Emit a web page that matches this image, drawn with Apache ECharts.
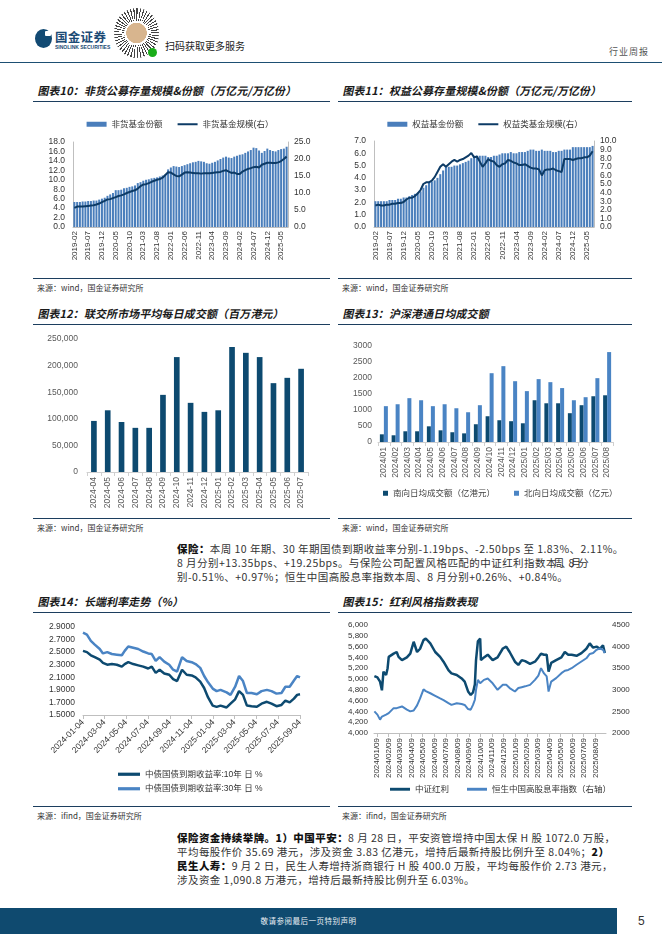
<!DOCTYPE html>
<html><head><meta charset="utf-8">
<script src="https://cdn.jsdelivr.net/npm/echarts/dist/echarts.min.js"></script>
<style>
body{margin:0;width:662px;height:936px;background:#fff;position:relative;overflow:hidden;font-family:"Noto Sans CJK SC",sans-serif;}
.abs{position:absolute;}
.title{position:absolute;font-size:11px;line-height:14px;font-weight:bold;color:#1a1a1a;letter-spacing:0.1px;white-space:nowrap;transform:skewX(-12deg);transform-origin:left bottom;}
.rule{position:absolute;height:0;border-top:1.3px solid #1c3e5e;}
.src{position:absolute;font-size:8px;line-height:12px;color:#333;white-space:nowrap;}
.chart{position:absolute;}
.p{position:absolute;left:177px;font-size:10.5px;color:#333;white-space:nowrap;line-height:14px;letter-spacing:0.45px;}
.p b{color:#111;font-weight:900;}
</style></head>
<body>
<!-- header -->
<div class="abs" style="left:35px;top:29px;width:17px;height:19px;border-radius:50%;background:#124a73;"></div>
<div class="abs" style="left:45px;top:31px;width:6px;height:5px;background:#fff;border-radius:1px;"></div>
<div class="abs" style="left:55px;top:29px;font-size:12.5px;line-height:15px;font-weight:bold;color:#1b4a75;letter-spacing:0.3px;">国金证券</div>
<div class="abs" style="left:55px;top:44px;font-size:5px;line-height:6px;font-weight:bold;color:#1b4a75;font-family:'Liberation Sans',sans-serif;">SINOLINK SECURITIES</div>
<div class="abs" style="left:114px;top:8px;width:45px;height:50px;border-radius:50%;background:radial-gradient(circle,#d8b58e 0 30%,#fff 31% 36%,transparent 37%),repeating-conic-gradient(#444 0 3deg,#fff 3deg 8deg);"></div>
<div class="abs" style="left:148px;top:48px;width:9px;height:9px;border-radius:50%;background:#1aad19;"></div>
<div class="abs" style="left:165px;top:39px;font-size:10px;line-height:14px;color:#222;">扫码获取更多服务</div>
<div class="abs" style="left:609px;top:45px;font-size:9px;line-height:13px;color:#555;letter-spacing:1px;">行业周报</div>
<div class="abs" style="left:0;top:62px;width:662px;border-top:1.6px solid #1d4f73;"></div>

<!-- titles and rules -->
<div class="title" style="left:37px;top:83px;">图表10：非货公募存量规模&amp;份额（万亿元/万亿份）</div>
<div class="title" style="left:342px;top:83px;">图表11：权益公募存量规模&amp;份额（万亿元/万亿份）</div>
<div class="rule" style="left:33px;top:101px;width:297px;"></div>
<div class="rule" style="left:338px;top:101px;width:294px;"></div>
<div class="rule" style="left:33px;top:278px;width:297px;"></div>
<div class="rule" style="left:338px;top:278px;width:294px;"></div>
<div class="src" style="left:37px;top:282px;">来源：wind，国金证券研究所</div>
<div class="src" style="left:342px;top:282px;">来源：wind，国金证券研究所</div>

<div class="title" style="left:37px;top:306px;">图表12：联交所市场平均每日成交额（百万港元）</div>
<div class="title" style="left:342px;top:306px;">图表13：沪深港通日均成交额</div>
<div class="rule" style="left:33px;top:324px;width:297px;"></div>
<div class="rule" style="left:338px;top:324px;width:294px;"></div>
<div class="rule" style="left:33px;top:518px;width:297px;"></div>
<div class="rule" style="left:338px;top:518px;width:294px;"></div>
<div class="src" style="left:37px;top:522px;">来源：wind，国金证券研究所</div>
<div class="src" style="left:342px;top:522px;">来源：wind，国金证券研究所</div>

<div class="p" style="top:542px;"><b>保险：</b>本周 10 年期、30 年期国债到期收益率分别-1.19bps、-2.50bps 至 1.83%、2.11%。</div>
<div class="p" style="top:556px;">8 月分别+13.35bps、+19.25bps。与保险公司配置风格匹配的中证红利指数<span style="letter-spacing:-3px;">本周、8 月分</span></div>
<div class="p" style="top:570px;">别-0.51%、+0.97%；恒生中国高股息率指数本周、8 月分别+0.26%、+0.84%。</div>

<div class="title" style="left:37px;top:594px;">图表14：长端利率走势（%）</div>
<div class="title" style="left:342px;top:594px;">图表15：红利风格指数表现</div>
<div class="rule" style="left:33px;top:612px;width:297px;"></div>
<div class="rule" style="left:338px;top:612px;width:294px;"></div>
<div class="rule" style="left:33px;top:806px;width:297px;"></div>
<div class="rule" style="left:338px;top:806px;width:294px;"></div>
<div class="src" style="left:37px;top:810px;">来源：ifind，国金证券研究所</div>
<div class="src" style="left:342px;top:810px;">来源：ifind，国金证券研究所</div>

<div class="p" style="top:831px;"><b>保险资金持续举牌。1）中国平安：</b>8 月 28 日，平安资管增持中国太保 H 股 1072.0 万股，</div>
<div class="p" style="top:845px;">平均每股作价 35.69 港元，涉及资金 3.83 亿港元，增持后最新持股比例升至 8.04%；<b>2）</b></div>
<div class="p" style="top:859px;"><b>民生人寿：</b>9 月 2 日，民生人寿增持浙商银行 H 股 400.0 万股，平均每股作价 2.73 港元，</div>
<div class="p" style="top:873px;">涉及资金 1,090.8 万港元，增持后最新持股比例升至 6.03%。</div>

<!-- footer -->
<div class="abs" style="left:0;top:908px;width:617px;height:26px;background:#0f4a6f;"></div>
<div class="abs" style="left:0;top:915px;width:617px;text-align:center;font-size:7.5px;line-height:12px;color:#e8eef3;letter-spacing:0.5px;">敬请参阅最后一页特别声明</div>
<div class="abs" style="left:638px;top:913px;font-size:12px;line-height:16px;color:#333;font-family:'Liberation Sans',sans-serif;">5</div>

<div id="c10" class="chart" style="left:30px;top:105px;width:300px;height:170px;"></div>
<div id="c11" class="chart" style="left:335px;top:105px;width:300px;height:170px;"></div>
<div id="c12" class="chart" style="left:30px;top:330px;width:300px;height:185px;"></div>
<div id="c13" class="chart" style="left:335px;top:330px;width:300px;height:185px;"></div>
<div id="c14" class="chart" style="left:30px;top:615px;width:300px;height:190px;"></div>
<div id="c15" class="chart" style="left:335px;top:615px;width:300px;height:190px;"></div>

<script>
// ---------- data ----------
const months = ['2019-02','2019-03','2019-04','2019-05','2019-06','2019-07','2019-08','2019-09','2019-10','2019-11','2019-12',
'2020-01','2020-02','2020-03','2020-04','2020-05','2020-06','2020-07','2020-08','2020-09','2020-10','2020-11','2020-12',
'2021-01','2021-02','2021-03','2021-04','2021-05','2021-06','2021-07','2021-08','2021-09','2021-10','2021-11','2021-12',
'2022-01','2022-02','2022-03','2022-04','2022-05','2022-06','2022-07','2022-08','2022-09','2022-10','2022-11','2022-12',
'2023-01','2023-02','2023-03','2023-04','2023-05','2023-06','2023-07','2023-08','2023-09','2023-10','2023-11','2023-12',
'2024-01','2024-02','2024-03','2024-04','2024-05','2024-06','2024-07','2024-08','2024-09','2024-10','2024-11','2024-12',
'2025-01','2025-02','2025-03','2025-04','2025-05','2025-06','2025-07'];

const nonMoneyShare = [5.3,5.3,5.3,5.4,5.4,5.5,5.5,5.6,5.6,5.8,6.0,
6.2,6.6,6.9,7.2,7.8,7.8,7.9,8.2,8.3,8.5,8.6,8.8,
9.3,9.5,9.8,10.0,10.1,10.3,10.4,10.5,10.7,10.9,11.1,12.2,
12.6,12.9,12.8,12.7,12.9,13.1,13.3,13.5,13.7,13.8,14.0,13.9,
13.8,13.5,13.4,13.6,13.8,14.1,14.4,14.7,14.9,14.7,14.6,14.9,
15.1,15.3,15.4,15.7,16.0,16.3,16.8,16.7,16.2,15.7,16.1,16.6,
16.3,16.1,16.0,16.3,16.5,16.6,17.0];
const nonMoneyScale = [5.6,6.0,6.0,6.0,6.1,6.2,6.3,6.4,6.6,6.9,7.3,
7.7,8.1,8.2,8.5,8.8,9.1,9.3,9.6,10.0,10.3,10.6,10.8,
11.3,12.0,12.5,12.6,12.9,13.3,13.6,13.9,14.1,14.5,15.3,16.1,
16.0,15.5,15.0,14.9,15.4,16.0,16.1,16.0,15.9,15.8,15.8,15.7,
15.8,15.8,15.8,15.9,16.0,16.1,16.2,16.5,16.7,16.3,15.9,16.0,
15.6,15.6,16.3,16.7,17.1,17.3,17.6,17.7,17.5,18.3,18.6,18.9,
18.9,18.8,18.8,19.0,19.4,20.0,20.7];

const equityShare = [2.1,2.1,2.1,2.1,2.1,2.2,2.2,2.2,2.3,2.3,2.4,
2.4,2.5,2.6,2.7,2.8,2.9,3.2,3.4,3.6,3.7,3.8,4.0,
4.3,4.6,4.9,4.9,4.9,5.0,5.0,5.1,5.2,5.3,5.4,5.6,
5.8,5.8,5.8,5.8,5.8,5.7,5.7,5.8,5.8,5.9,6.0,6.0,
6.0,6.1,6.0,6.0,6.1,6.1,6.1,6.2,6.3,6.3,6.2,6.2,
6.3,6.2,6.2,6.2,6.1,6.1,6.2,6.2,6.3,6.3,6.3,6.5,
6.5,6.5,6.5,6.5,6.5,6.5,6.6];
const equityScale = [2.5,2.6,2.5,2.5,2.6,2.6,2.7,2.7,2.8,2.8,2.9,
3.2,3.4,3.4,3.6,3.9,4.3,5.0,5.2,5.2,5.4,5.8,6.4,
7.0,7.3,7.0,7.3,7.6,7.8,7.6,7.8,7.9,8.1,8.3,8.6,
8.1,8.2,7.6,7.0,7.4,7.9,7.7,7.6,7.2,7.0,7.3,7.4,
7.8,7.7,7.5,7.4,7.2,7.2,7.3,7.1,6.9,6.8,6.8,6.7,
6.0,6.6,6.7,6.7,6.8,6.6,6.5,6.4,7.9,7.9,7.9,7.8,
7.9,8.0,8.0,8.1,8.1,8.3,8.8];

const hkexMonths = ['2024-04','2024-05','2024-06','2024-07','2024-08','2024-09','2024-10','2024-11','2024-12','2025-01','2025-02','2025-03','2025-04','2025-05','2025-06','2025-07'];
const hkexTurnover = [96000,116000,94000,83000,83000,145000,216000,130000,113000,116000,235000,224000,216000,167000,177000,194000];

const connectMonths = ['2024/01','2024/02','2024/03','2024/04','2024/05','2024/06','2024/07','2024/08','2024/09','2024/10','2024/11','2024/12','2025/01','2025/02','2025/03','2025/04','2025/05','2025/06','2025/07','2025/08'];
const southbound = [240,210,335,335,490,365,305,270,555,805,680,650,585,1305,1210,1210,900,1150,1430,1460];
const northbound = [1120,1180,1370,1305,1120,1180,1055,930,1150,2150,2370,1900,1590,1965,1870,1685,1305,1400,1995,2810];

const bondDates = ['2024-01-04','2024-01-15','2024-01-26','2024-02-06','2024-02-20','2024-02-29','2024-03-12','2024-03-25','2024-04-08','2024-04-22','2024-04-30','2024-05-10','2024-05-24','2024-06-07','2024-06-21','2024-07-05','2024-07-15','2024-07-26','2024-08-06','2024-08-19','2024-09-02','2024-09-13','2024-09-24','2024-10-08','2024-10-21','2024-11-04','2024-11-15','2024-11-28','2024-12-09','2024-12-20','2025-01-02','2025-01-13','2025-01-24','2025-02-10','2025-02-21','2025-03-06','2025-03-17','2025-03-28','2025-04-08','2025-04-21','2025-05-06','2025-05-19','2025-06-03','2025-06-16','2025-06-30','2025-07-14','2025-07-25','2025-08-06','2025-08-18','2025-08-27','2025-09-04'];
const yield10 = [2.52,2.50,2.45,2.42,2.38,2.33,2.30,2.31,2.30,2.27,2.31,2.34,2.31,2.29,2.27,2.24,2.27,2.17,2.22,2.16,2.14,2.07,2.04,2.22,2.14,2.13,2.10,2.03,1.93,1.78,1.65,1.63,1.65,1.62,1.68,1.75,1.88,1.82,1.65,1.64,1.63,1.68,1.71,1.68,1.64,1.66,1.73,1.70,1.76,1.82,1.83];
const yield30 = [2.81,2.78,2.68,2.62,2.55,2.48,2.50,2.47,2.46,2.45,2.52,2.59,2.57,2.55,2.51,2.48,2.47,2.36,2.42,2.35,2.30,2.22,2.19,2.42,2.36,2.34,2.31,2.25,2.12,2.02,1.92,1.88,1.90,1.86,1.82,1.95,2.12,2.04,1.85,1.85,1.83,1.88,1.90,1.88,1.84,1.85,1.95,1.95,2.05,2.12,2.10];
const bondTicks = ['2024-01-04','2024-03-04','2024-05-04','2024-07-04','2024-09-04','2024-11-04','2025-01-04','2025-03-04','2025-05-04','2025-07-04','2025-09-04'];

const divDates = ['2024-01-02','2024-01-10','2024-01-17','2024-01-22','2024-01-26','2024-02-02','2024-02-06','2024-02-09','2024-02-22','2024-03-01','2024-03-06','2024-03-15','2024-03-28','2024-04-06','2024-04-15','2024-04-24','2024-05-02','2024-05-11','2024-05-17','2024-05-29','2024-06-11','2024-06-24','2024-07-03','2024-07-16','2024-07-24','2024-08-07','2024-08-20','2024-08-28','2024-09-06','2024-09-13','2024-09-19','2024-09-24','2024-09-27','2024-10-02','2024-10-08','2024-10-10','2024-10-18','2024-10-28','2024-11-10','2024-11-23','2024-12-07','2024-12-16','2024-12-25','2025-01-08','2025-01-17','2025-01-26','2025-02-04','2025-02-17','2025-03-02','2025-03-11','2025-03-18','2025-03-26','2025-04-02','2025-04-07','2025-04-14','2025-04-27','2025-05-11','2025-05-20','2025-05-29','2025-06-07','2025-06-20','2025-07-03','2025-07-16','2025-07-25','2025-08-03','2025-08-12','2025-08-21','2025-08-29','2025-09-03'];
const csiDividend = [5055,5030,4950,4790,5135,5075,5200,5410,5470,5500,5410,5350,5400,5470,5690,5500,5560,5720,5750,5660,5500,5410,5320,5165,5105,5075,5010,4950,4770,4705,4750,4900,5350,5700,5750,5350,5400,5450,5350,5400,5565,5600,5500,5320,5260,5350,5330,5280,5320,5400,5470,5450,5450,5135,5300,5350,5400,5500,5450,5450,5430,5480,5560,5660,5580,5600,5560,5625,5480];
const hsHighDiv = [2500,2425,2310,2380,2410,2425,2440,2460,2575,2575,2590,2615,2540,2500,2520,2640,2800,3010,2970,2920,2860,2800,2760,2690,2650,2690,2670,2650,2555,2540,2650,2770,3000,3230,3150,3180,3230,3260,3150,3000,3115,3115,3040,2960,3040,3060,3080,3115,3230,3330,3500,3380,3310,2960,3190,3270,3385,3440,3460,3500,3580,3655,3730,3830,3850,3925,3960,3925,3850];
const divTicks = ['2024/01/09','2024/02/09','2024/03/09','2024/04/09','2024/05/09','2024/06/09','2024/07/09','2024/08/09','2024/09/09','2024/10/09','2024/11/09','2024/12/09','2025/01/09','2025/02/09','2025/03/09','2025/04/09','2025/05/09','2025/06/09','2025/07/09','2025/08/09'];

// ---------- helpers ----------
const FONT = '"Liberation Sans", Arial, "Noto Sans CJK SC", sans-serif';
const DARK = '#0d4a70', LIGHT = '#4a84c4', BAR = '#4a7ebb', LINE = '#0d3b66';
function ts(s){const p=s.split(/[-\/]/);return Date.UTC(+p[0],+p[1]-1,+p[2]);}
function fmt(t,sep){const d=new Date(t);return d.getUTCFullYear()+sep+String(d.getUTCMonth()+1).padStart(2,'0')+sep+String(d.getUTCDate()).padStart(2,'0');}
function pairs(dates,vals){return dates.map((d,i)=>[ts(d),vals[i]]);}
function mk(id,opt){const c=echarts.init(document.getElementById(id),null,{renderer:'canvas'});opt.animation=false;opt.textStyle={fontFamily:FONT};c.setOption(opt);}
const lab = (extra)=>Object.assign({fontSize:8,color:'#333',fontFamily:FONT},extra||{});
const gray = {lineStyle:{color:'#bfbfbf'}};
const thinLine = 'path://M0,0 H20 V2 H0 Z';
const thickLine = 'path://M0,0 H22 V3.2 H0 Z';

// ---------- chart 10 / 11 ----------
function fundChart(id,barName,lineName,barData,lineData,lmax,lint,rmax,rint,grid){
  mk(id,{
    legend:{top:10,left:'center',itemGap:15,itemWidth:20,itemHeight:5,textStyle:{fontSize:8.5,color:'#333',fontFamily:FONT},
      data:[{name:barName,icon:'rect'},{name:lineName,icon:thinLine}]},
    grid:grid,
    xAxis:{type:'category',data:months,axisLine:gray,axisTick:{show:false},axisLabel:lab({rotate:90,interval:4,margin:4})},
    yAxis:[{type:'value',min:0,max:lmax,interval:lint,splitLine:{show:false},axisLine:{show:true,lineStyle:{color:'#bfbfbf'}},axisTick:{show:false},axisLabel:lab({formatter:v=>v.toFixed(1),fontSize:8.5,margin:8})},
           {type:'value',min:0,max:rmax,interval:rint,splitLine:{show:false},axisLine:{show:true,lineStyle:{color:'#bfbfbf'}},axisTick:{show:false},axisLabel:lab({formatter:v=>v.toFixed(1),fontSize:8.5,margin:6})}],
    series:[{type:'bar',name:barName,data:barData,itemStyle:{color:BAR},barCategoryGap:'28%'},
            {type:'line',name:lineName,yAxisIndex:1,data:lineData,symbol:'none',lineStyle:{color:LINE,width:2},itemStyle:{color:LINE}}]
  });
}
fundChart('c10','非货基金份额','非货基金规模(右）',nonMoneyShare,nonMoneyScale,18,2,25,5,{left:43,right:42,top:37,bottom:48});
fundChart('c11','权益基金份额','权益类基金规模(右）',equityShare,equityScale,7,1,10,1,{left:39,right:41,top:36,bottom:48});

// ---------- chart 12 ----------
mk('c12',{
  grid:{left:57,right:22,top:9,bottom:43},
  xAxis:{type:'category',data:hkexMonths,axisLine:{lineStyle:{color:'#d0d0d0'}},axisTick:{show:true,length:4,lineStyle:{color:'#d0d0d0'}},axisLabel:lab({rotate:90,color:'#595959',fontSize:8.5,margin:5})},
  yAxis:{type:'value',min:0,max:250000,interval:50000,splitLine:{show:false},axisLine:{show:false},axisTick:{show:false},
    axisLabel:lab({color:'#595959',fontSize:8.5,margin:9,formatter:v=>v.toLocaleString('en-US')})},
  series:[{type:'bar',data:hkexTurnover,barWidth:'41%',itemStyle:{color:DARK}}]
});

// ---------- chart 13 ----------
mk('c13',{
  legend:{top:154,left:43,itemGap:19,itemWidth:5,itemHeight:5,textStyle:{fontSize:8.5,color:'#404040',fontFamily:FONT},
    data:[{name:'南向日均成交额（亿港元）',icon:'rect'},{name:'北向日均成交额（亿元）',icon:'rect'}]},
  grid:{left:43,right:22,top:16,bottom:73},
  xAxis:{type:'category',data:connectMonths,axisLine:{lineStyle:{color:'#d0d0d0'}},axisTick:{show:true,length:4,lineStyle:{color:'#d0d0d0'}},axisLabel:lab({rotate:90,color:'#595959',fontSize:8.5,margin:5})},
  yAxis:{type:'value',min:0,max:3000,interval:500,splitLine:{show:false},axisLine:{show:false},axisTick:{show:false},axisLabel:lab({color:'#595959',fontSize:8.5,margin:6,formatter:v=>String(v)})},
  series:[{type:'bar',name:'南向日均成交额（亿港元）',data:southbound,barWidth:4,barGap:'0%',itemStyle:{color:DARK}},
          {type:'bar',name:'北向日均成交额（亿元）',data:northbound,barWidth:4,itemStyle:{color:LIGHT}}]
});

// ---------- chart 14 ----------
mk('c14',{
  legend:{orient:'vertical',top:150,left:83,itemGap:6,itemWidth:22,itemHeight:9,textStyle:{fontSize:8.5,color:'#333',fontFamily:FONT},
    data:[{name:'中债国债到期收益率:10年 日 %',icon:thickLine},{name:'中债国债到期收益率:30年 日 %',icon:thickLine}]},
  grid:{left:53,right:30,top:12,bottom:90},
  xAxis:{type:'value',min:ts('2024-01-04'),max:ts('2025-09-04'),splitLine:{show:false},
    axisLine:{show:true,lineStyle:{color:'#bfbfbf'}},
    axisTick:{show:true,length:4,lineStyle:{color:'#bfbfbf'},customValues:bondTicks.map(ts)},
    axisLabel:lab({rotate:45,fontSize:8.5,margin:6,customValues:bondTicks.map(ts),formatter:v=>fmt(v,'-'),hideOverlap:false})},
  yAxis:{type:'value',min:1.5,max:2.9,interval:0.2,splitLine:{show:false},axisLine:{show:false},axisTick:{show:false},axisLabel:lab({fontSize:8.5,margin:8,formatter:v=>v.toFixed(4)})},
  series:[{type:'line',name:'中债国债到期收益率:10年 日 %',data:pairs(bondDates,yield10),symbol:'none',lineStyle:{color:DARK,width:2.5},itemStyle:{color:DARK}},
          {type:'line',name:'中债国债到期收益率:30年 日 %',data:pairs(bondDates,yield30),symbol:'none',lineStyle:{color:LIGHT,width:2.5},itemStyle:{color:LIGHT}}]
});

// ---------- chart 15 ----------
mk('c15',{
  legend:{top:165,left:50,itemGap:18,itemWidth:20,itemHeight:9,textStyle:{fontSize:8.5,color:'#333',fontFamily:FONT},
    data:[{name:'中证红利',icon:thickLine},{name:'恒生中国高股息率指数（右轴）',icon:thickLine}]},
  grid:{left:39,right:29,top:10,bottom:72},
  xAxis:{type:'value',min:ts('2024-01-01'),max:ts('2025-09-06'),splitLine:{show:false},
    axisLine:{show:true,lineStyle:{color:'#bfbfbf'}},
    axisTick:{show:true,length:4,lineStyle:{color:'#bfbfbf'},customValues:divTicks.map(ts)},
    axisLabel:lab({rotate:90,fontSize:8,margin:5,customValues:divTicks.map(ts),formatter:v=>fmt(v,'/'),hideOverlap:false})},
  yAxis:[{type:'value',min:4000,max:6000,interval:200,splitLine:{show:false},axisLine:{show:false},axisTick:{show:false},axisLabel:lab({fontSize:8,margin:6,formatter:v=>v.toLocaleString('en-US')})},
         {type:'value',min:2000,max:4500,interval:500,splitLine:{show:false},axisLine:{show:false},axisTick:{show:false},axisLabel:lab({fontSize:8,margin:6,formatter:v=>String(v)})}],
  series:[{type:'line',name:'中证红利',data:pairs(divDates,csiDividend),symbol:'none',lineStyle:{color:DARK,width:2.5},itemStyle:{color:DARK}},
          {type:'line',name:'恒生中国高股息率指数（右轴）',yAxisIndex:1,data:pairs(divDates,hsHighDiv),symbol:'none',lineStyle:{color:LIGHT,width:2},itemStyle:{color:LIGHT}}]
});
</script>
</body></html>
